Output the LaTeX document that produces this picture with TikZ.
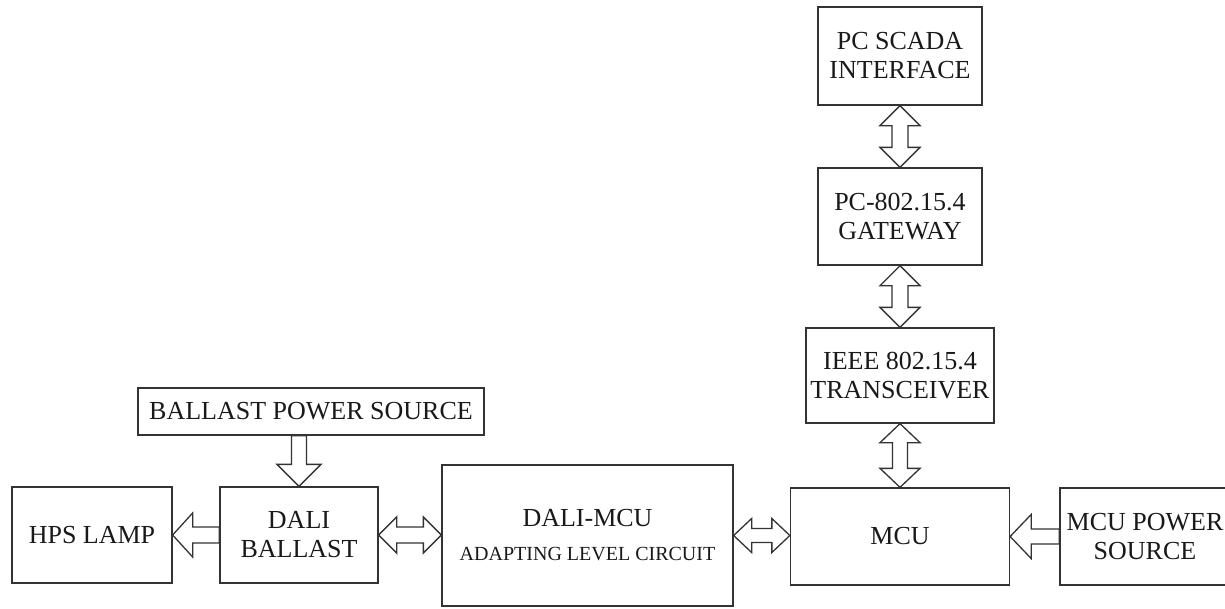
\documentclass[tikz,border=0pt]{standalone}
\usepackage{fontspec}
\setmainfont{Liberation Serif}
\usetikzlibrary{calc}
\tikzset{
  box/.style={draw=black!80, line width=1.3pt, inner sep=0pt, align=center,
    text=black!90, font=\fontsize{26}{29}\selectfont},
  blk/.style={draw=black!80, line width=1.3pt, fill=white, line join=miter},
}
% vertical double arrow: #1 upper node, #2 lower node, #3 head length, #4 head half width, #5 shaft half width
\newcommand\vdblarrow[5]{%
  \draw[blk] let \p1=(#1.south), \p2=(#2.north) in
   (\x1,\y1) -- (\x1+#4,\y1-#3) -- (\x1+#5,\y1-#3) -- (\x1+#5,\y2+#3) -- (\x1+#4,\y2+#3)
   -- (\x1,\y2) -- (\x1-#4,\y2+#3) -- (\x1-#5,\y2+#3) -- (\x1-#5,\y1-#3) -- (\x1-#4,\y1-#3) -- cycle;}
% horizontal double arrow: #1 left node, #2 right node
\newcommand\hdblarrow[5]{%
  \draw[blk] let \p1=(#1.east), \p2=(#2.west) in
   (\x1,\y1) -- (\x1+#3,\y1+#4) -- (\x1+#3,\y1+#5) -- (\x2-#3,\y1+#5) -- (\x2-#3,\y1+#4)
   -- (\x2,\y1) -- (\x2-#3,\y1-#4) -- (\x2-#3,\y1-#5) -- (\x1+#3,\y1-#5) -- (\x1+#3,\y1-#4) -- cycle;}
% single arrow pointing left: #1 source node (right), #2 target node (left)
\newcommand\leftarrowblk[5]{%
  \draw[blk] let \p1=(#2.east), \p2=(#1.west) in
   (\x1,\y1) -- (\x1+#3,\y1+#4) -- (\x1+#3,\y1+#5) -- (\x2,\y1+#5) -- (\x2,\y1-#5)
   -- (\x1+#3,\y1-#5) -- (\x1+#3,\y1-#4) -- cycle;}
% single arrow pointing down: #1 source node (above), #2 target node (below)
\newcommand\downarrowblk[5]{%
  \draw[blk] let \p1=(#2.north), \p2=(#1.south) in
   (\x1,\y1) -- (\x1+#4,\y1+#3) -- (\x1+#5,\y1+#3) -- (\x1+#5,\y2) -- (\x1-#5,\y2)
   -- (\x1-#5,\y1+#3) -- (\x1-#4,\y1+#3) -- cycle;}
\begin{document}
\begin{tikzpicture}[x=1pt,y=-1pt]
\useasboundingbox (0,0) rectangle (1225,608);
\fill[white] (0,0) rectangle (1225,608);

\node[box, minimum width=164pt, minimum height=98pt] (scada) at (900,56) {PC SCADA\\INTERFACE};
\node[box, minimum width=164pt, minimum height=97pt] (gateway) at (900,216.5) {PC-802.15.4\\GATEWAY};
\node[box, minimum width=188pt, minimum height=95pt] (ieee) at (900,375.5) {IEEE 802.15.4\\TRANSCEIVER};
\node[box, minimum width=219pt, minimum height=97pt] (mcu) at (900,536.5) {MCU};
\node[box, minimum width=180pt, minimum height=97pt] (mcups) at (1150,536.5)
  {MCU POWER\hspace*{10pt}\\SOURCE\hspace*{10pt}};
\node[box, minimum width=291pt, minimum height=141pt] (dalimcu) at (587.5,535.5)
  {DALI-MCU\\[5pt]{\fontsize{20}{24}\selectfont ADAPTING LEVEL CIRCUIT}};
\node[box, minimum width=158pt, minimum height=96pt] (ballast) at (299,535) {DALI\\BALLAST};
\node[box, minimum width=160pt, minimum height=96pt] (hps) at (92,535) {HPS LAMP};
\node[box, minimum width=346pt, minimum height=47pt] (bps) at (311,411.5) {BALLAST POWER SOURCE};

\vdblarrow{scada}{gateway}{20pt}{20pt}{8pt}
\vdblarrow{gateway}{ieee}{20pt}{20pt}{8pt}
\vdblarrow{ieee}{mcu}{19pt}{20pt}{7.5pt}
\hdblarrow{ballast}{dalimcu}{18pt}{18pt}{8pt}
\hdblarrow{dalimcu}{mcu}{18pt}{17pt}{7pt}
\leftarrowblk{ballast}{hps}{20pt}{22pt}{8pt}
\leftarrowblk{mcups}{mcu}{21pt}{22pt}{7.5pt}
\downarrowblk{bps}{ballast}{22pt}{22pt}{7.5pt}
\end{tikzpicture}
\end{document}
